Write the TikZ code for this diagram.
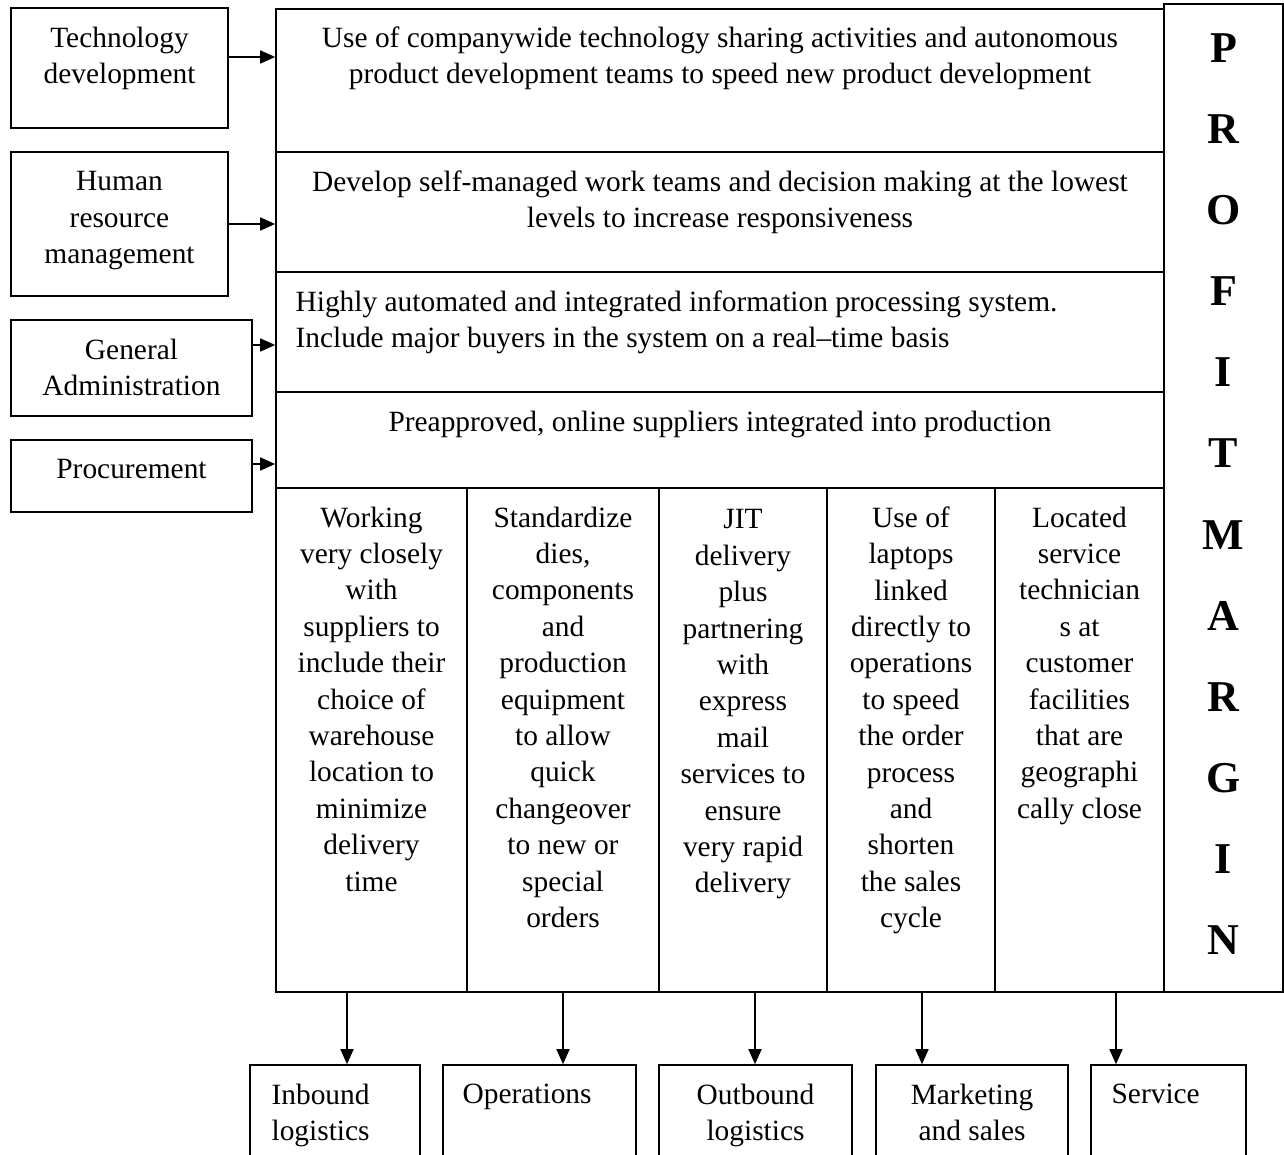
\documentclass[tikz,border=0pt]{standalone}
\usepackage{fontspec}
\setmainfont{Liberation Serif}
\usetikzlibrary{arrows.meta,fit,positioning}
\newcommand{\bodyfont}{\fontsize{14.7}{18.2}\selectfont}

\begin{document}
\begin{tikzpicture}[x=0.5pt, y=-0.5pt, >={Triangle[length=7.5pt,width=6.5pt]},
    box/.style={draw, line width=0.8pt, inner sep=0pt},
    txt/.style={inner sep=0pt, align=center, font=\bodyfont},
    link/.style={->, line width=0.8pt}]
    \useasboundingbox (0,0) rectangle (1284,1155);

    % Support activities
    \node[box, fit={(11,8) (228,128)}] (tech) {};
    \node[box, fit={(11,152) (228,296)}] (hrm) {};
    \node[box, fit={(11,320) (252,416)}] (admin) {};
    \node[box, fit={(11,440) (252,512)}] (proc) {};
    \node[txt, below=9.8pt of tech.north] {Technology\\development};
    \node[txt, below=10pt of hrm.north] {Human\\resource\\management};
    \node[txt, below=9.5pt of admin.north] {General\\Administration};
    \node[txt, below=10pt of proc.north] {Procurement};

    % Rows of the chain
    \node[box, fit={(276,9) (1164,152)}] (row1) {};
    \node[box, fit={(276,152) (1164,272)}] (row2) {};
    \node[box, fit={(276,272) (1164,392)}] (row3) {};
    \node[box, fit={(276,392) (1164,488)}] (row4) {};
    \node[txt, below=9pt of row1.north] {Use of companywide technology sharing activities and autonomous\\product development teams to speed new product development};
    \node[txt, below=9.5pt of row2.north] {Develop self-managed work teams and decision making at the lowest\\levels to increase responsiveness};
    \node[txt, align=left, below right=9.5pt and 10pt of row3.north west] {Highly automated and integrated information processing system.\\Include major buyers in the system on a real–time basis};
    \node[txt, below=9.5pt of row4.north] {Preapproved, online suppliers integrated into production};

    % Columns of the chain
    \node[box, fit={(276,488) (467,992)}] (col1) {};
    \node[box, fit={(467,488) (659,992)}] (col2) {};
    \node[box, fit={(659,488) (827,992)}] (col3) {};
    \node[box, fit={(827,488) (995,992)}] (col4) {};
    \node[box, fit={(995,488) (1164,992)}] (col5) {};
    \node[txt, below=9.5pt of col1.north] {Working\\very closely\\with\\suppliers to\\include their\\choice of\\warehouse\\location to\\minimize\\delivery\\time};
    \node[txt, below=9.5pt of col2.north] {Standardize\\dies,\\components\\and\\production\\equipment\\to allow\\quick\\changeover\\to new or\\special\\orders};
    \node[txt, below=11pt of col3.north] {JIT\\delivery\\plus\\partnering\\with\\express\\mail\\services to\\ensure\\very rapid\\delivery};
    \node[txt, below=9.5pt of col4.north] {Use of\\laptops\\linked\\directly to\\operations\\to speed\\the order\\process\\and\\shorten\\the sales\\cycle};
    \node[txt, below=9.5pt of col5.north] {Located\\service\\technician\\s at\\customer\\facilities\\that are\\geographi\\cally close};

    % Margin
    \node[box, fit={(1164,4) (1283,992)}] (margin) {};
    \node[inner sep=0pt, align=center, font=\fontsize{22}{40.55}\selectfont\bfseries, below=15pt of margin.north]
        {P\\R\\O\\F\\I\\T\\M\\A\\R\\G\\I\\N};

    % Primary activities
    \node[box, fit={(250,1065) (420,1180)}] (inbound) {};
    \node[box, fit={(443,1065) (636,1180)}] (ops) {};
    \node[box, fit={(659,1065) (852,1180)}] (outbound) {};
    \node[box, fit={(876,1065) (1068,1180)}] (market) {};
    \node[box, fit={(1091,1065) (1246,1180)}] (service) {};
    \node[txt, align=left, below right=9.5pt and 11pt of inbound.north west] {Inbound\\logistics};
    \node[txt, align=left, below right=9.5pt and 10pt of ops.north west] {Operations};
    \node[txt, below=9.5pt of outbound.north] {Outbound\\logistics};
    \node[txt, below=9.5pt of market.north] {Marketing\\and sales};
    \node[txt, align=left, below right=9.5pt and 10.5pt of service.north west] {Service};

    % Arrows into the chain
    \draw[link] (tech.east |- 0,57) -- (row1.west |- 0,57);
    \draw[link] (hrm.east |- 0,224) -- (row2.west |- 0,224);
    \draw[link] (admin.east |- 0,345) -- (row3.west |- 0,345);
    \draw[link] (proc.east |- 0,464) -- (row4.west |- 0,464);

    % Arrows out of the chain
    \foreach \x/\a/\b in {347/col1/inbound, 563/col2/ops, 755/col3/outbound, 922/col4/market, 1116/col5/service} {
        \draw[link] (\a.south -| \x,0) -- (\b.north -| \x,0);
    }
\end{tikzpicture}
\end{document}
